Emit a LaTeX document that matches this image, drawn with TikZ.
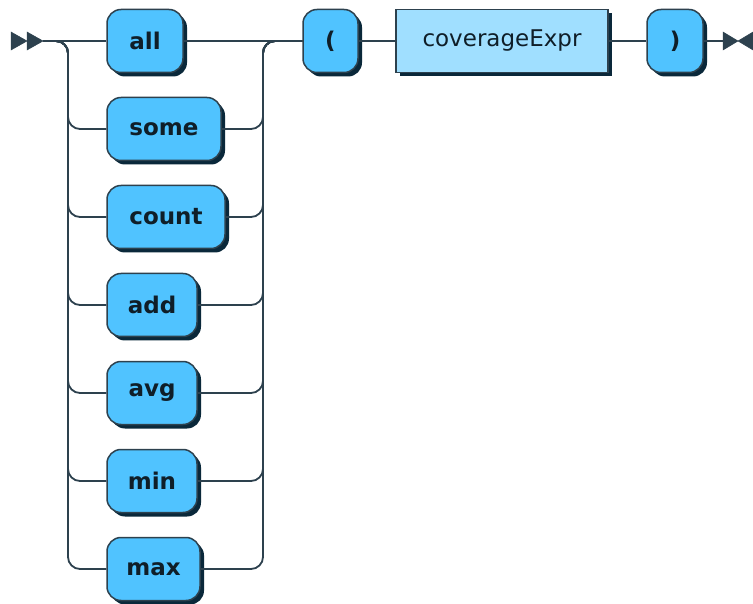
\documentclass[tikz,border=0pt]{standalone}
\usepackage{fontspec}
\setmainfont{DejaVu Sans}
\usetikzlibrary{shadows}
\definecolor{termfill}{RGB}{80,195,255}
\definecolor{ntfill}{RGB}{160,223,255}
\definecolor{railc}{RGB}{45,65,78}
\definecolor{shadowc}{RGB}{10,40,58}
\definecolor{textc}{RGB}{15,30,40}
\tikzset{
  rail/.style={draw=railc, line width=1.8pt, rounded corners=12pt},
  term/.style={draw=railc, line width=1.5pt, fill=termfill, rounded corners=14pt,
    minimum height=63pt, inner sep=0pt, text=textc,
    font=\fontsize{23}{27}\selectfont\bfseries,
    drop shadow={shadow xshift=4pt, shadow yshift=-4pt, fill=shadowc, opacity=1}},
  nterm/.style={draw=railc, line width=1.5pt, fill=ntfill,
    minimum height=63pt, inner sep=0pt, text=textc,
    font=\fontsize{23}{27}\selectfont,
    drop shadow={shadow xshift=4pt, shadow yshift=-4pt, fill=shadowc, opacity=1}},
  marker/.style={fill=railc, draw=railc, line width=0.5pt}
}
\begin{document}
\begin{tikzpicture}[x=1pt,y=-1pt]
\useasboundingbox (0,0) rectangle (753,604);
\fill[white] (0,0) rectangle (753,604);
% nodes
\node[term, minimum width=76pt] (all) at (145,41) {all};
\node[term, minimum width=114pt] (some) at (164,129) {some};
\node[term, minimum width=118pt] (count) at (166,217) {count};
\node[term, minimum width=90pt] (add) at (152,305) {add};
\node[term, minimum width=90pt] (avg) at (152,393) {avg};
\node[term, minimum width=90pt] (min) at (152,481) {min};
\node[term, minimum width=93pt] (max) at (153.5,569) {max};
\node[term, minimum width=55pt] (lp) at (330.5,41) {(};
\node[nterm, minimum width=212pt] (ce) at (502,41) {coverageExpr};
\node[term, minimum width=56pt] (rp) at (675,41) {)};
% rail coordinates
\coordinate (s) at (43,41);
\coordinate (e) at (723,41);
\coordinate (L) at (68,41);
\coordinate (R) at (263,41);
% start marker
\fill[marker] (11,32) -- (27,41) -- (11,50) -- cycle;
\fill[marker] (27,32) -- (43,41) -- (27,50) -- cycle;
% end marker
\fill[marker] (723,32) -- (738,41) -- (723,50) -- cycle;
\fill[marker] (753,32) -- (738,41) -- (753,50) -- cycle;
% rails
\draw[rail] (s) -- (all.west);
\draw[rail] (all.east) -- (lp.west);
\foreach \n in {some,count,add,avg,min,max}{
  \draw[rail] (s) -| (L |- \n.west) -- (\n.west);
  \draw[rail] (\n.east) -| (R) -- (lp.west);
}
\draw[rail] (lp.east) -- (ce.west);
\draw[rail] (ce.east) -- (rp.west);
\draw[rail] (rp.east) -- (e);
\end{tikzpicture}
\end{document}
